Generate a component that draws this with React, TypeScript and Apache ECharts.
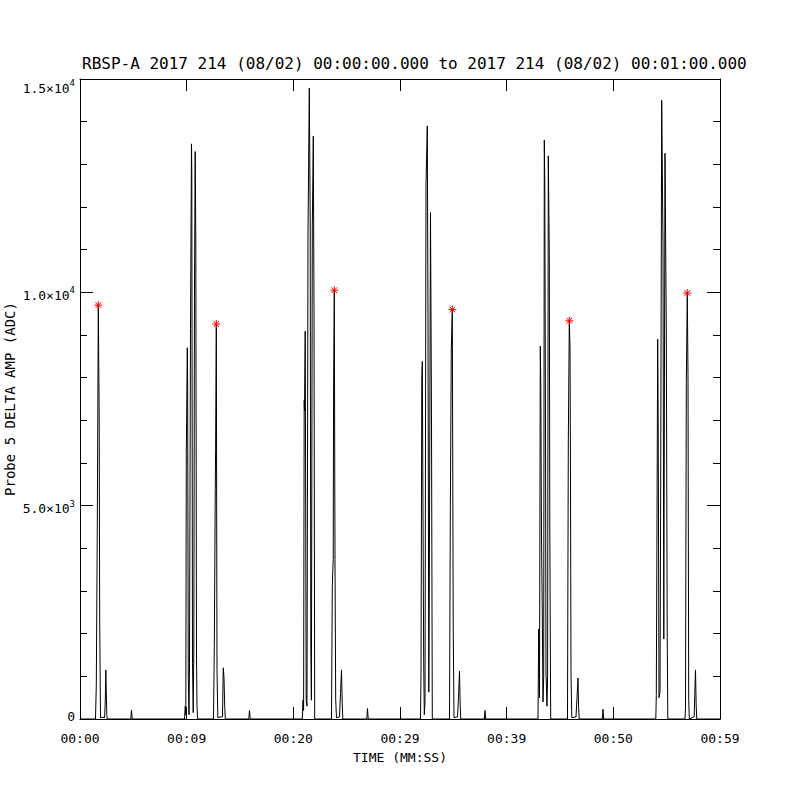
import React, { useEffect, useRef } from "react";
import * as echarts from "echarts";

// Tick labels
const xTickLabels = ["00:00", "00:09", "00:20", "00:29", "00:39", "00:50", "00:59"];
const yTickMantissa = ["0", "5.0×10", "1.0×10", "1.5×10"];
const yTickExponent = ["", "3", "4", "4"];

// Red asterisk markers (time in s, amplitude in ADC)
const starTimes = [1.716, 12.778, 23.841, 34.903, 45.872, 56.934];
const starValues = [9700, 9258, 10050, 9600, 9333, 9984];

// Bursts of tall peaks: [time s, amplitude ADC]
const clusterB: [number, number][] = [
  [9.797, 0], [9.863, 300], [9.919, 100], [9.966, 6220], [10.059, 8700], [10.088, 8030],
  [10.153, 960], [10.219, 100], [10.266, 1300], [10.359, 9150], [10.453, 13480], [10.481, 12800],
  [10.547, 1300], [10.613, 150], [10.669, 1600], [10.734, 10080], [10.8, 13300], [10.856, 11200],
  [10.922, 1500], [10.969, 300], [11.025, 0],
];
const clusterC: [number, number][] = [
  [20.841, 0], [20.906, 440], [20.963, 200], [21.019, 7470], [21.047, 7220], [21.113, 9090],
  [21.206, 440], [21.281, 300], [21.375, 11390], [21.497, 14790], [21.581, 11700], [21.638, 1780],
  [21.694, 440], [21.778, 11530], [21.872, 13660], [21.938, 9620], [22.003, 0],
];
const clusterD: [number, number][] = [
  [31.922, 0], [31.969, 1060], [32.044, 7990], [32.091, 8380], [32.138, 5840], [32.222, 1345],
  [32.278, 100], [32.344, 400], [32.438, 12540], [32.559, 13900], [32.625, 9430], [32.7, 630],
  [32.747, 2970], [32.859, 11870], [32.953, 7130], [33.028, 0],
];
const clusterE: [number, number][] = [
  [42.938, 0], [43.003, 2110], [43.078, 500], [43.153, 8740], [43.2, 7800], [43.266, 4310],
  [43.331, 2730], [43.406, 400], [43.472, 1000], [43.528, 13570], [43.575, 12450], [43.641, 6750],
  [43.688, 1100], [43.781, 300], [43.838, 1000], [43.903, 13200], [43.997, 10860], [44.044, 4500],
  [44.128, 0],
];
const clusterF: [number, number][] = [
  [53.981, 0], [54.028, 550], [54.075, 3450], [54.159, 8900], [54.206, 6940], [54.281, 500],
  [54.375, 630], [54.431, 4740], [54.534, 14500], [54.656, 11150], [54.731, 1875], [54.844, 13260],
  [54.966, 9090], [55.05, 2110], [55.106, 0],
];

// Single peaks (marked with asterisks) and their small follow-up bumps
const spikeA: [number, number][] = [
  [1.453, 0], [1.528, 800], [1.622, 4550], [1.716, 9700], [1.8, 7050], [1.847, 2300], [1.922, 30],
  [2.063, 40], [2.306, 30], [2.372, 450], [2.419, 1150], [2.466, 630], [2.513, 100], [2.559, 0],
];
const spikeB: [number, number][] = [
  [12.516, 0], [12.591, 1700], [12.684, 5400], [12.713, 6300], [12.778, 9258], [12.844, 1160],
  [12.919, 30], [13.031, 40], [13.359, 50], [13.434, 1200], [13.5, 960], [13.566, 300], [13.622, 0],
];
const spikeC: [number, number][] = [
  [23.578, 0], [23.653, 3120], [23.738, 3740], [23.775, 7850], [23.841, 10050], [23.906, 3740],
  [23.972, 450], [24.047, 30], [24.328, 50], [24.422, 600], [24.516, 1150], [24.581, 400], [24.638, 0],
];
const spikeD: [number, number][] = [
  [34.641, 0], [34.716, 4740], [34.809, 8670], [34.903, 9600], [34.988, 2200], [35.063, 30],
  [35.391, 50], [35.484, 500], [35.578, 1120], [35.644, 300], [35.7, 0],
];
const spikeE: [number, number][] = [
  [45.703, 0], [45.778, 6470], [45.872, 9333], [45.938, 8720], [45.975, 6470], [46.031, 1060],
  [46.106, 30], [46.5, 50], [46.594, 500], [46.688, 960], [46.744, 300], [46.8, 0],
];
const spikeF: [number, number][] = [
  [56.719, 0], [56.766, 270], [56.841, 7870], [56.934, 9984], [57.0, 8040], [57.066, 436],
  [57.122, 0], [57.581, 50], [57.638, 600], [57.703, 1150], [57.769, 300], [57.825, 0],
];

// Tiny blips between bursts
const blips: [number, number][][] = [
  [[4.763, 0], [4.828, 210], [4.894, 0]],
  [[15.825, 0], [15.891, 200], [15.956, 0]],
  [[26.888, 0], [26.953, 245], [27.019, 0]],
  [[37.903, 0], [37.969, 200], [38.034, 0]],
  [[48.966, 0], [49.031, 230], [49.097, 0]],
];

const FONT = "DejaVu Sans Mono";

export default function App() {
  const ref = useRef<HTMLDivElement>(null);
  useEffect(() => {
    if (!ref.current) return;
    const chart = echarts.init(ref.current, undefined, { renderer: "svg" });

    const pieces: [number, number][][] = [
      spikeA, blips[0], clusterB, spikeB, blips[1], clusterC, spikeC, blips[2],
      clusterD, spikeD, blips[3], clusterE, spikeE, blips[4], clusterF, spikeF,
    ];
    const lineData: [number, number][] = [[0, 0]];
    pieces.forEach((p) => p.forEach((pt) => lineData.push(pt)));
    lineData.push([60, 0]);
    lineData.sort((a, b) => a[0] - b[0]);

    const axisLine = { show: true, onZero: false, lineStyle: { color: "#000", width: 1 } };
    const txt = { color: "#000", fontFamily: FONT, fontSize: 13 };

    chart.setOption({
      animation: false,
      backgroundColor: "#fff",
      title: {
        text: "RBSP-A 2017 214 (08/02) 00:00:00.000 to 2017 214 (08/02) 00:01:00.000",
        left: 82,
        top: 55,
        padding: 0,
        textStyle: { color: "#000", fontFamily: FONT, fontSize: 16, fontWeight: "normal" },
      },
      grid: { left: 80, right: 80, top: 79, bottom: 81, outerBoundsMode: "none", containLabel: false },
      xAxis: [
        {
          type: "value", min: 0, max: 60, interval: 10, position: "bottom",
          axisLine, axisTick: { show: true, inside: true, length: 12, lineStyle: { color: "#000" } },
          splitLine: { show: false },
          axisLabel: {
            ...txt, margin: 13,
            formatter: (v: number) => xTickLabels[Math.round(v / 10)] ?? "",
          },
          name: "TIME (MM:SS)", nameLocation: "middle", nameGap: 32,
          nameMoveOverlap: false,
          nameTextStyle: { ...txt },
        },
        {
          type: "value", min: 0, max: 60, interval: 10, position: "top",
          axisLine, axisTick: { show: true, inside: true, length: 12, lineStyle: { color: "#000" } },
          splitLine: { show: false }, axisLabel: { show: false },
        },
      ],
      yAxis: [
        {
          type: "value", min: 0, max: 15000, interval: 5000, position: "left",
          axisLine, axisTick: { show: true, inside: true, length: 13, lineStyle: { color: "#000" } },
          minorTick: { show: true, splitNumber: 5, length: 7, lineStyle: { color: "#000" } },
          splitLine: { show: false },
          axisLabel: {
            margin: 5,
            formatter: (v: number) => {
              const i = Math.round(v / 5000);
              const body = yTickExponent[i]
                ? `{m|${yTickMantissa[i]}}{e|${yTickExponent[i]}}`
                : `{m|${yTickMantissa[i]}}`;
              if (i === 0) return `${body}\n{g0| }`;
              if (i === 3) return `{g3| }\n${body}`;
              return `{g1| }\n${body}`;
            },
            rich: {
              m: { ...txt, lineHeight: 16, verticalAlign: "bottom" },
              e: { color: "#000", fontFamily: FONT, fontSize: 9, lineHeight: 16, verticalAlign: "top" },
              g0: { fontSize: 1, lineHeight: 8 },
              g1: { fontSize: 1, lineHeight: 3 },
              g3: { fontSize: 1, lineHeight: 15 },
            },
          },
          name: "Probe 5 DELTA AMP (ADC)", nameLocation: "middle", nameGap: 63,
          nameMoveOverlap: false,
          nameTextStyle: { ...txt, fontSize: 14 },
        },
        {
          type: "value", min: 0, max: 15000, interval: 5000, position: "right",
          axisLine, axisTick: { show: true, inside: true, length: 13, lineStyle: { color: "#000" } },
          minorTick: { show: true, splitNumber: 5, length: 7, lineStyle: { color: "#000" } },
          splitLine: { show: false }, axisLabel: { show: false },
        },
      ],
      series: [
        {
          type: "line", xAxisIndex: 0, yAxisIndex: 0, data: lineData, showSymbol: false,
          symbol: "none", lineStyle: { color: "#000", width: 1 }, silent: true,
        },
        {
          type: "scatter", xAxisIndex: 0, yAxisIndex: 0,
          data: starTimes.map((t, i) => [t, starValues[i]]),
          symbol: "path://M5,0L5,10M0,5L10,5M1.5,1.5L8.5,8.5M8.5,1.5L1.5,8.5",
          symbolSize: 8,
          itemStyle: { color: "none", borderColor: "#ff0000", borderWidth: 1, opacity: 1 },
          z: 5,
        },
      ],
    });
    return () => chart.dispose();
  }, []);
  return (
    <div
      ref={ref}
      style={{ position: "absolute", left: 0, top: 0, width: 800, height: 800 }}
    />
  );
}
